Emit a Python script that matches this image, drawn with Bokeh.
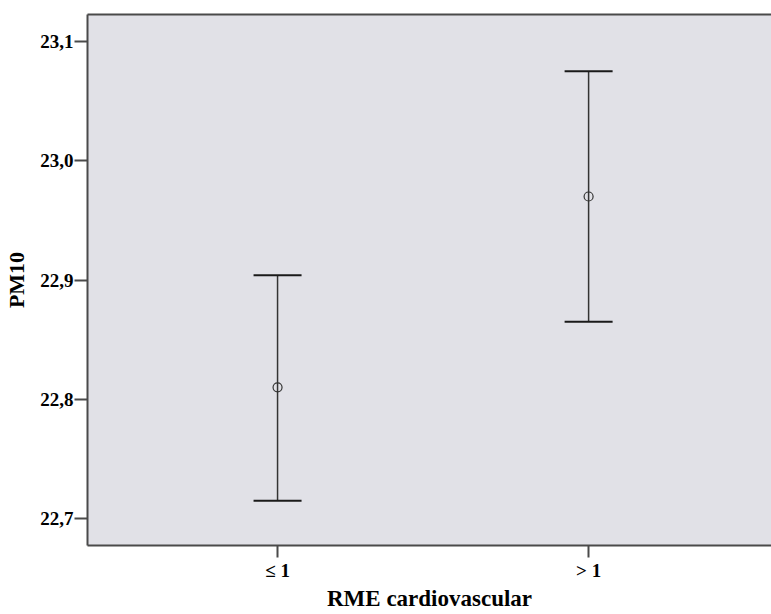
from bokeh.plotting import figure
from bokeh.models import (ColumnDataSource, Range1d, FixedTicker, LinearAxis,
                          Whisker, TeeHead)
from bokeh.embed import file_html
from bokeh.resources import INLINE

# Data
categories = ["≤ 1", "> 1"]
cat_pos = [1, 2]
means = [22.810, 22.970]
lower = [22.715, 22.865]
upper = [22.904, 23.075]
y_ticks = [22.7, 22.8, 22.9, 23.0, 23.1]
y_tick_labels = ["22,7", "22,8", "22,9", "23,0", "23,1"]

FONT = "Liberation Serif"
BG = "#e1e1e7"
FRAME = "#4a4a4a"

src = ColumnDataSource(dict(x=cat_pos, mean=means, lower=lower, upper=upper))

p = figure(width=771, height=614, output_backend="svg", toolbar_location=None,
           x_range=Range1d(0.389, 2.588), y_range=Range1d(22.6774, 23.1226),
           min_border_left=87, min_border_top=14, min_border_right=0,
           min_border_bottom=69, background_fill_color=BG,
           border_fill_color="white", outline_line_color=None)
p.grid.visible = False

# x axis
xa = p.xaxis[0]
xa.ticker = FixedTicker(ticks=cat_pos)
xa.major_label_overrides = {c: l for c, l in zip(cat_pos, categories)}
xa.minor_tick_line_color = None
xa.major_tick_out = 12
xa.major_tick_in = 0
xa.axis_line_color = FRAME
xa.axis_line_width = 2
xa.major_tick_line_color = FRAME
xa.major_tick_line_width = 2
xa.major_label_text_font = FONT
xa.major_label_text_font_size = "19px"
xa.major_label_text_font_style = "bold"
xa.major_label_text_color = "black"
xa.major_label_standoff = 2
xa.axis_label = "RME cardiovascular"
xa.axis_label_text_font = FONT
xa.axis_label_text_font_size = "23px"
xa.axis_label_text_font_style = "bold"
xa.axis_label_text_color = "black"
xa.axis_label_standoff = 2

# y axis
ya = p.yaxis[0]
ya.ticker = FixedTicker(ticks=y_ticks)
ya.major_label_overrides = {t: l for t, l in zip(y_ticks, y_tick_labels)}
ya.minor_tick_line_color = None
ya.major_tick_out = 13
ya.major_tick_in = 0
ya.axis_line_color = FRAME
ya.axis_line_width = 2
ya.major_tick_line_color = FRAME
ya.major_tick_line_width = 2
ya.major_label_text_font = FONT
ya.major_label_text_font_size = "19px"
ya.major_label_text_font_style = "bold"
ya.major_label_text_color = "black"
ya.major_label_standoff = 1
ya.axis_label = "PM10"
ya.axis_label_text_font = FONT
ya.axis_label_text_font_size = "22px"
ya.axis_label_text_font_style = "bold"
ya.axis_label_text_color = "black"
ya.axis_label_standoff = 8

# top border
top = LinearAxis(ticker=FixedTicker(ticks=[]), axis_line_color=FRAME,
                 axis_line_width=2, major_tick_line_color=None,
                 minor_tick_line_color=None, major_label_text_font_size="0px")
p.add_layout(top, "above")

# error bars
wh = Whisker(base="x", upper="upper", lower="lower", source=src,
             line_color="#333333", line_width=1.5,
             upper_head=TeeHead(size=48, line_color="#1a1a1a", line_width=2),
             lower_head=TeeHead(size=48, line_color="#1a1a1a", line_width=2))
p.add_layout(wh)

p.scatter("x", "mean", source=src, marker="circle", size=9, fill_color=None,
          line_color="#333333", line_width=1.2)

open("out.html", "w").write(file_html(p, INLINE))
